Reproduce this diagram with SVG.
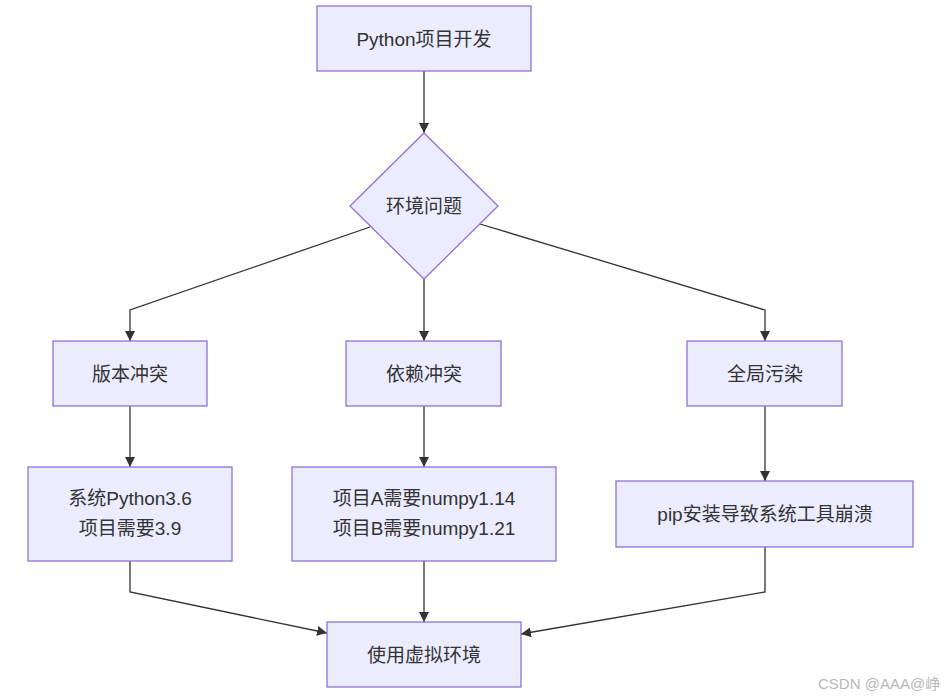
<svg xmlns="http://www.w3.org/2000/svg" width="949" height="699" viewBox="0 0 949 699">
<style>
.node{fill:#ECECFF;stroke:#9370DB;stroke-width:1.3}
.lbl{font-family:"Liberation Sans","Noto Sans CJK SC",sans-serif;font-size:19px;fill:#333333;text-anchor:middle;dominant-baseline:central}
.edge{fill:none;stroke:#333333;stroke-width:1.3}
.wm{font-family:"Liberation Sans","Noto Sans CJK SC",sans-serif;font-size:15px;fill:#b8b8b8}
</style>
<defs>
<marker id="arr" viewBox="0 0 10 10" refX="10" refY="5" markerWidth="10" markerHeight="10" markerUnits="userSpaceOnUse" orient="auto">
<path d="M0,0 L10,5 L0,10 z" fill="#333333"/>
</marker>
</defs>
<rect width="949" height="699" fill="#ffffff"/>
<g id="edges">
<path class="edge" marker-end="url(#arr)" d="M424,71 L424,133"/>
<path class="edge" marker-end="url(#arr)" d="M370,227 L130,310 L130,341"/>
<path class="edge" marker-end="url(#arr)" d="M424,279 L424,341"/>
<path class="edge" marker-end="url(#arr)" d="M480,224 L765,310 L765,341"/>
<path class="edge" marker-end="url(#arr)" d="M130,406 L130,467"/>
<path class="edge" marker-end="url(#arr)" d="M424,406 L424,467"/>
<path class="edge" marker-end="url(#arr)" d="M765,406 L765,481"/>
<path class="edge" marker-end="url(#arr)" d="M130,561 L130,592 L327,633"/>
<path class="edge" marker-end="url(#arr)" d="M424,561 L424,622"/>
<path class="edge" marker-end="url(#arr)" d="M765,547 L765,592 L521,634"/>
</g>
<g id="n_dev">
<rect class="node" x="317" y="6" width="214" height="65"/>
<text class="lbl" x="424" y="39">Python项目开发</text>
</g>
<g id="n_env">
<polygon class="node" points="424,133 498,206 424,279 350,206"/>
<text class="lbl" x="424" y="206">环境问题</text>
</g>
<g id="n_ver">
<rect class="node" x="53" y="341" width="154" height="65"/>
<text class="lbl" x="130" y="374">版本冲突</text>
</g>
<g id="n_dep">
<rect class="node" x="346" y="341" width="155" height="65"/>
<text class="lbl" x="424" y="374">依赖冲突</text>
</g>
<g id="n_glob">
<rect class="node" x="687" y="341" width="155" height="65"/>
<text class="lbl" x="765" y="374">全局污染</text>
</g>
<g id="n_sys">
<rect class="node" x="28" y="467" width="204" height="94"/>
<text class="lbl" x="130" y="498">系统Python3.6</text>
<text class="lbl" x="130" y="528">项目需要3.9</text>
</g>
<g id="n_numpy">
<rect class="node" x="292" y="467" width="264" height="94"/>
<text class="lbl" x="424" y="498">项目A需要numpy1.14</text>
<text class="lbl" x="424" y="528">项目B需要numpy1.21</text>
</g>
<g id="n_pip">
<rect class="node" x="616" y="481" width="297" height="66"/>
<text class="lbl" x="765" y="514">pip安装导致系统工具崩溃</text>
</g>
<g id="n_venv">
<rect class="node" x="327" y="622" width="194" height="65"/>
<text class="lbl" x="424" y="655">使用虚拟环境</text>
</g>
<text class="wm" x="818" y="689">CSDN @AAA@峥</text>
</svg>
